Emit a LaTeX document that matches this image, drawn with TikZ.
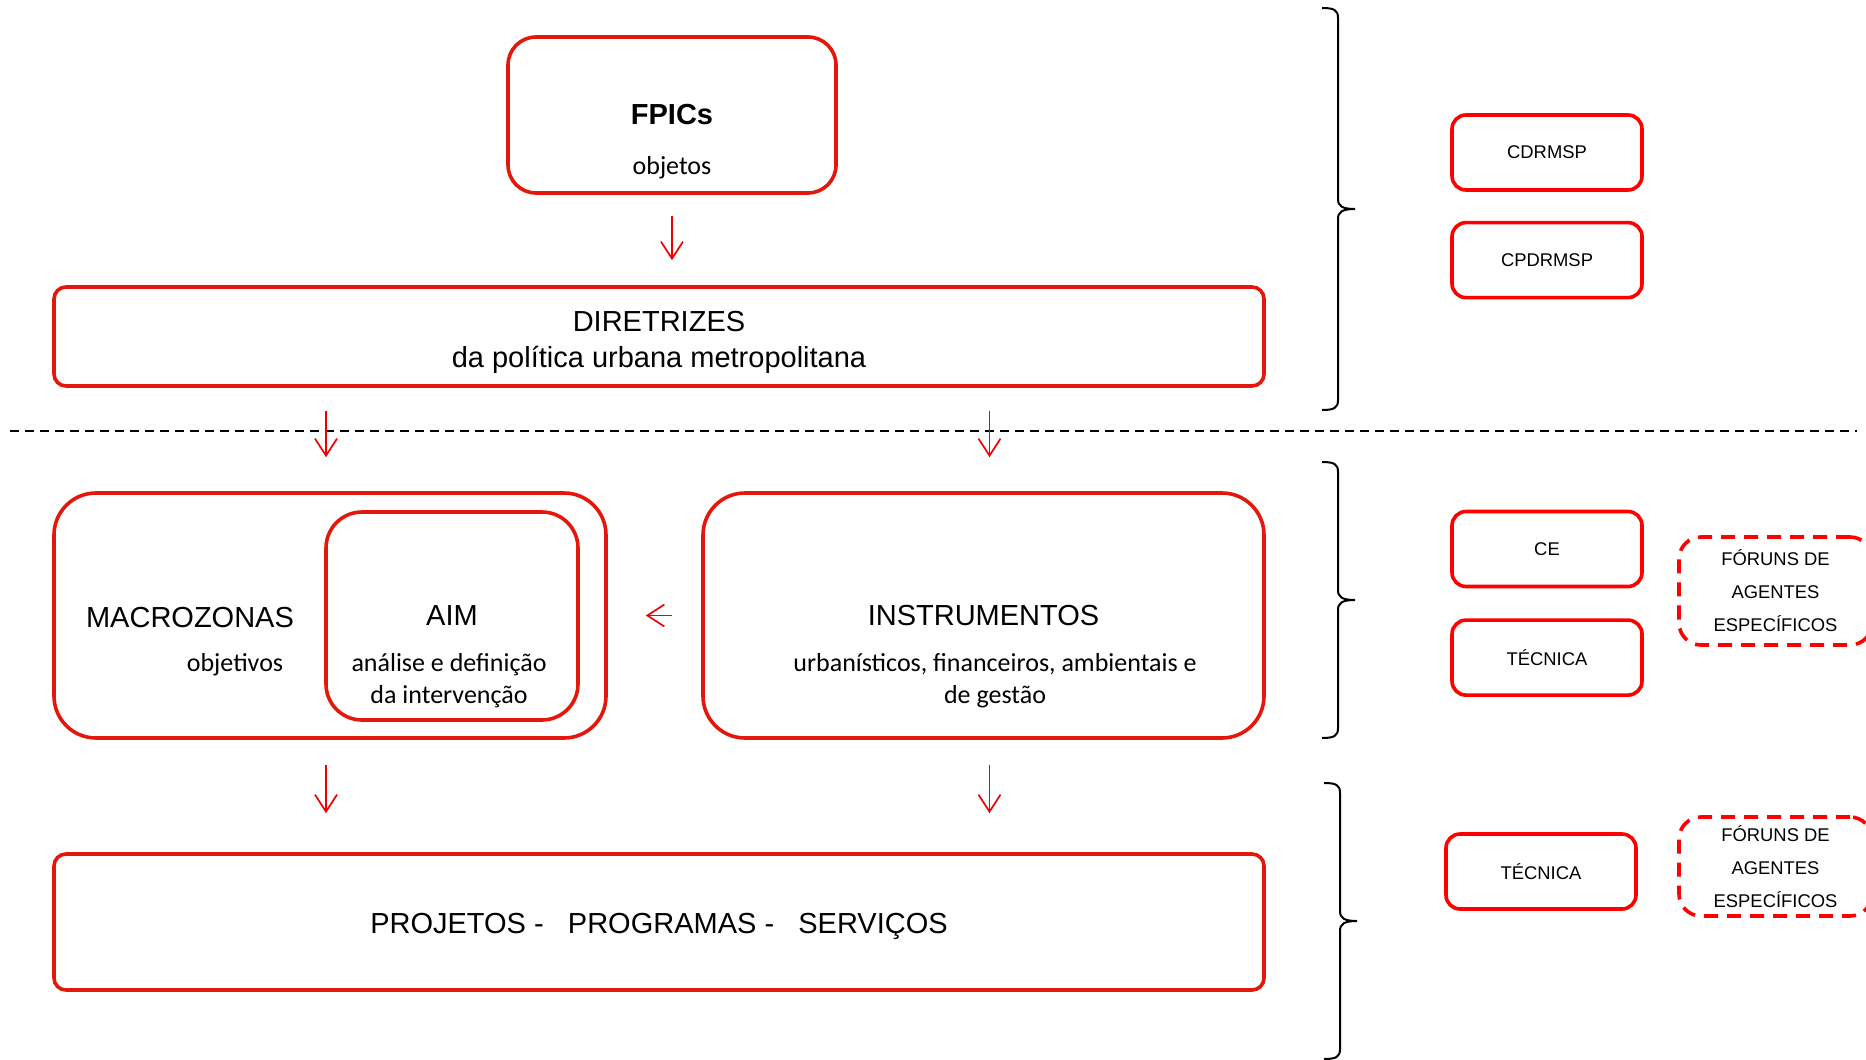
\documentclass[tikz,border=0pt]{standalone}
\usepackage{fontspec}
\setmainfont{Liberation Sans}
\newfontfamily\calibri{Carlito}
\usetikzlibrary{arrows.meta,positioning}
\definecolor{boxred}{HTML}{E3170A}
\definecolor{arrred}{HTML}{F00000}
\definecolor{brightred}{HTML}{FF0000}
\tikzset{
  box/.style     = {rectangle, draw=boxred, line width=1.8pt, inner sep=0pt, align=center,
                    font=\fontsize{14.5}{18}\selectfont},
  frame/.style   = {box, rounded corners=6pt},
  panel/.style   = {box, rounded corners=21pt},
  council/.style = {rectangle, draw=brightred, line width=1.8pt, rounded corners=7pt,
                    minimum width=95pt, minimum height=37.5pt, font=\fontsize{9.2}{11}\selectfont},
  forum/.style   = {rectangle, draw=brightred, line width=1.8pt, dash pattern=on 7pt off 4.5pt,
                    rounded corners=11pt, align=center, minimum width=96.5pt,
                    font=\fontsize{9.2}{16.5}\selectfont},
  head/.style    = {font=\fontsize{14.5}{18}\selectfont, align=center, inner sep=0pt},
  sub/.style     = {font=\calibri\fontsize{13}{16}\selectfont, align=center, inner sep=0pt},
  flow/.style    = {-{Straight Barb[length=8.5pt,width=11pt]}, line width=0.85pt, draw=arrred},
  bracket/.style = {line width=1pt, draw=black},
  sepline/.style = {line width=1pt, dash pattern=on 4.5pt off 3pt},
}

\begin{document}
\begin{tikzpicture}[x=0.5pt, y=-0.5pt]
\useasboundingbox (0,0) rectangle (1866,1059);

% upper level
\node[box, rounded corners=14pt, minimum width=164pt, minimum height=78pt] (fpics) at (672,115)
  {\bfseries FPICs};
\node[sub] (fpicsS) at (672,168) {objetos};
\node[frame, minimum width=605pt, minimum height=49.5pt] (dir) at (659,336.5) {};
\node[head] (dirT) at (659,342) {DIRETRIZES\\da política urbana metropolitana};

% separator
\coordinate (sepL) at (10,431);
\coordinate (sepR) at (1857,431);
\draw[sepline] (sepL) -- (sepR);

% middle level
\node[panel, minimum width=276pt, minimum height=122.5pt] (macro) at (330,615.5) {};
\node[head] (macroT) at (190,618) {MACROZONAS};
\node[sub] (macroS) at (235,665) {objetivos};
\node[box, rounded corners=18pt, minimum width=126pt, minimum height=104pt] (aim) at (452,616) {AIM};
\node[sub] (aimS) at (449,681) {análise e definição\\da intervenção};
\node[panel, minimum width=280.5pt, minimum height=122.5pt] (instr) at (983.5,615.5) {INSTRUMENTOS};
\node[sub] (instrS) at (995,681) {urbanísticos, financeiros, ambientais e\\de gestão};

% lower level
\node[frame, minimum width=605pt, minimum height=68pt] (proj) at (659,922) {};
\node[head] (projT) at (659,926) {PROJETOS -\ \ \ PROGRAMAS -\ \ \ SERVIÇOS};

% bodies
\node[council] (cdr) at (1547,152.5) {CDRMSP};
\node[council, below=14.5pt of cdr] (cpdr) {CPDRMSP};
\node[council] (ce) at (1547,549) {CE};
\node[council, below=15pt of ce] (tec) {TÉCNICA};
\node[council] (tec2) at (1541,871.5) {TÉCNICA};
\node[forum, minimum height=54pt] (forA) at (1775.5,591) {FÓRUNS DE\\AGENTES\\ESPECÍFICOS};
\node[forum, minimum height=49.5pt] (forB) at (1775.5,866.5) {FÓRUNS DE\\AGENTES\\ESPECÍFICOS};

\draw[flow, shorten <=10.5pt, shorten >=12.5pt] (fpics.south) -- (fpics.south |- dir.north);
\draw[flow, shorten <=11.5pt, shorten >=17pt] ([xshift=-2pt]macro.north |- dir.south) -- ([xshift=-2pt]macro.north);
\draw[flow, shorten <=11.5pt, shorten >=17pt] ([xshift=3pt]instr.north |- dir.south) -- ([xshift=3pt]instr.north);
\draw[flow, shorten <=14.5pt, shorten >=19pt] (instr.west) -- (macro.east);
\draw[flow, shorten <=12.5pt, shorten >=19.5pt] ([xshift=-2pt]macro.south) -- ([xshift=-2pt]macro.south |- proj.north);
\draw[flow, shorten <=12.5pt, shorten >=19.5pt] ([xshift=3pt]instr.south) -- ([xshift=3pt]instr.south |- proj.north);

% braces
\foreach \bx/\yt/\ym/\yb in {1338/8/209/410, 1338/462/600/738, 1340/783/921/1059}{
  \draw[bracket] (\bx-16,\yt) .. controls (\bx-4,\yt) and (\bx,\yt+2) .. (\bx,\yt+10)
    -- (\bx,\ym-10) .. controls (\bx,\ym-3) and (\bx+4,\ym) .. (\bx+17,\ym)
    .. controls (\bx+4,\ym) and (\bx,\ym+3) .. (\bx,\ym+10)
    -- (\bx,\yb-10) .. controls (\bx,\yb-2) and (\bx-4,\yb) .. (\bx-16,\yb);
}
\end{tikzpicture}
\end{document}
